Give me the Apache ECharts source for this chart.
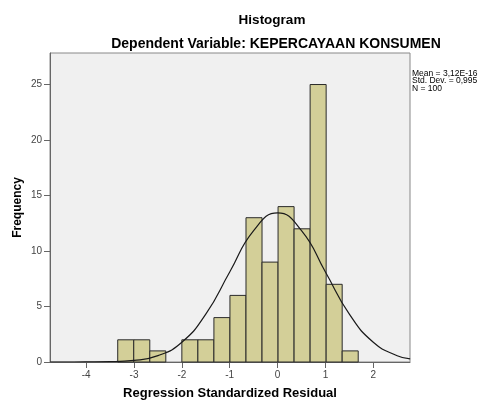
<!DOCTYPE html>
<html>
<head>
<meta charset="utf-8">
<script src="https://cdn.jsdelivr.net/npm/echarts@6/dist/echarts.min.js"></script>
<style>html,body{margin:0;padding:0;background:#fff;}#c{width:488px;height:405px;}</style>
</head>
<body>
<div id="c"></div>
<script>
// Histogram bins (start of first bin and bin width)
var binStart = -3.34;
var binWidth = 0.335;
var counts = [2, 2, 1, 0, 2, 2, 4, 6, 13, 9, 14, 12, 25, 7, 1];
// Normal curve values
var curveX = [-4.75, -4.5, -4, -3.5, -3, -2.5, -2, -1.5, -1, -0.5, 0, 0.5, 1, 1.5, 2, 2.5, 2.77];
var curveY = [0, 0, 0.01, 0.03, 0.14, 0.57, 1.78, 4.31, 8.11, 11.84, 13.43, 11.84, 8.11, 4.31, 1.78, 0.57, 0.28];
var xTicks = [-4, -3, -2, -1, 0, 1, 2];
var statLines = ['Mean = 3,12E-16', 'Std. Dev. = 0,995', 'N = 100'];

var binData = counts.map(function (c, i) {
  return [binStart + i * binWidth, binStart + (i + 1) * binWidth, c];
});
var curveData = curveX.map(function (x, i) { return [x, curveY[i]]; });

var chart = echarts.init(document.getElementById('c'), null, {renderer: 'canvas'});
var font = 'Liberation Sans, Arial, sans-serif';
chart.setOption({
  animation: false,
  backgroundColor: '#ffffff',
  title: [
    {text: 'Histogram', left: 272, top: 13, textAlign: 'center', padding: 0,
     textStyle: {fontFamily: font, fontSize: 13.5, fontWeight: 'bold', color: '#000'}},
    {text: 'Dependent Variable: KEPERCAYAAN KONSUMEN', left: 276, top: 37, textAlign: 'center', padding: 0,
     textStyle: {fontFamily: font, fontSize: 14, fontWeight: 'bold', color: '#000'}},
    {text: statLines.join('\n'), left: 412, top: 70, padding: 0,
     textStyle: {fontFamily: font, fontSize: 8.5, fontWeight: 'normal', color: '#000', lineHeight: 7.4}}
  ],
  grid: {left: 50, top: 53, right: 78, bottom: 41, show: true,
         backgroundColor: '#f0f0f0', borderColor: '#888', borderWidth: 1},
  xAxis: {
    type: 'value', min: -4.755, max: 2.767,
    name: 'Regression Standardized Residual', nameLocation: 'middle', nameGap: 25,
    nameMoveOverlap: false,
    nameTextStyle: {fontFamily: font, fontSize: 13, fontWeight: 'bold', color: '#000'},
    axisLine: {show: true, onZero: false, lineStyle: {color: '#666', width: 1}},
    axisTick: {show: true, length: 6, lineStyle: {color: '#666'}, customValues: xTicks},
    axisLabel: {fontFamily: font, fontSize: 10, color: '#444', margin: 8, customValues: xTicks},
    splitLine: {show: false}
  },
  yAxis: {
    type: 'value', min: 0, max: 27.84, interval: 5,
    name: 'Frequency', nameLocation: 'middle', nameGap: 26,
    nameMoveOverlap: false,
    nameTextStyle: {fontFamily: font, fontSize: 12, fontWeight: 'bold', color: '#000'},
    axisLine: {show: true, onZero: false, lineStyle: {color: '#666', width: 1}},
    axisTick: {show: true, length: 6, lineStyle: {color: '#666'}},
    axisLabel: {fontFamily: font, fontSize: 10, color: '#444', margin: 8,
                showMaxLabel: false},
    splitLine: {show: false}
  },
  series: [
    {
      type: 'custom',
      data: binData,
      encode: {x: [0, 1], y: 2},
      renderItem: function (params, api) {
        var v = api.value(2);
        if (!v) return null;
        var p0 = api.coord([api.value(0), v]);
        var p1 = api.coord([api.value(1), 0]);
        return {
          type: 'rect',
          shape: {x: p0[0], y: p0[1], width: p1[0] - p0[0], height: p1[1] - p0[1]},
          style: {fill: '#d3cf98', stroke: '#2a2a2a', lineWidth: 1}
        };
      },
      z: 2
    },
    {
      type: 'line', data: curveData, smooth: true, showSymbol: false, symbol: 'none',
      lineStyle: {color: '#1a1a1a', width: 1.2}, z: 3, silent: true
    }
  ]
});
</script>
</body>
</html>
